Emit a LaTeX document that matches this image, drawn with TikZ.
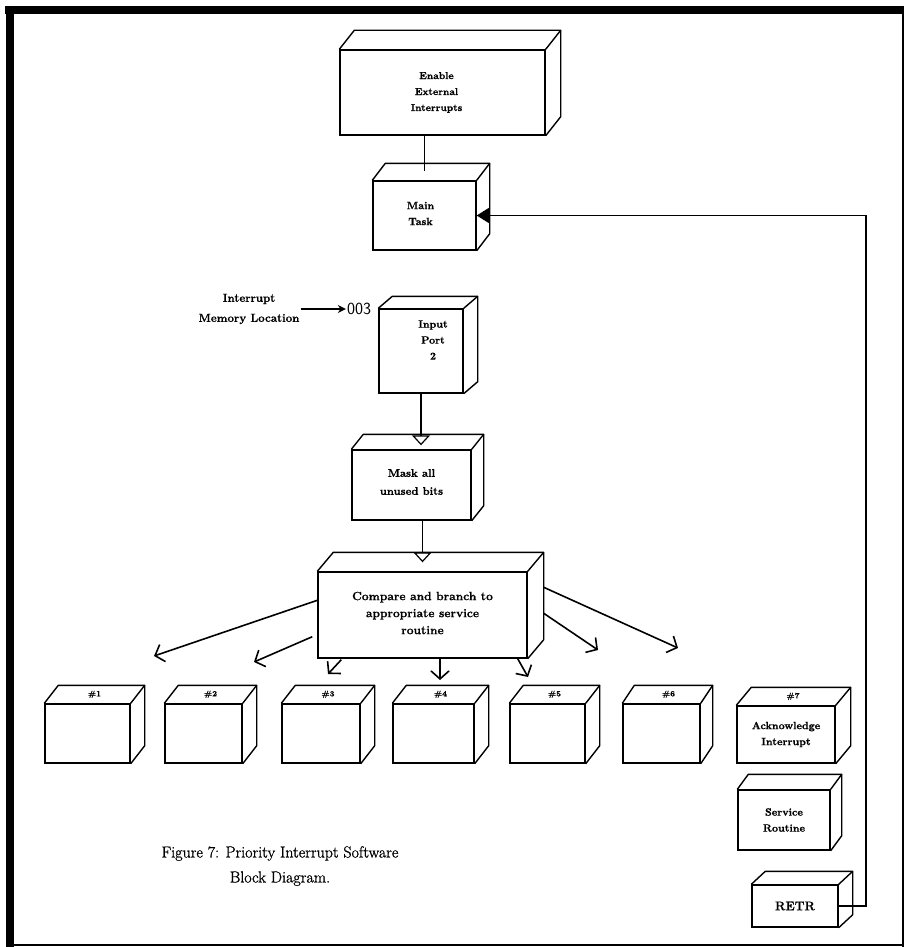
\documentclass[tikz,border=0pt]{standalone}
\usepackage{fontspec}
\usetikzlibrary{arrows.meta,calc}
% slightly heavier cuts of Latin Modern for the printed look of the labels
\newfontfamily\capfont[RawFeature={embolden=1.2}]{Latin Modern Roman}
\newfontfamily\boxfont[RawFeature={embolden=0.8}]{Latin Modern Roman}
\begin{document}
\begin{tikzpicture}[x=1pt,y=-1pt,
  facebox/.style={draw, line width=1.4pt, fill=white, inner sep=0pt},
  face/.style={inner sep=0pt, align=center, font=\boxfont\bfseries\fontsize{10.5}{16}\selectfont},
  bigface/.style={face, font=\boxfont\bfseries\fontsize{11}{18}\selectfont},
  wideface/.style={face, font=\boxfont\bfseries\fontsize{12}{17}\selectfont},
  toplbl/.style={inner sep=0pt, font=\boxfont\bfseries\fontsize{8}{8}\selectfont},
  conn/.style={line width=1.2pt},
  barb/.style={line width=1.6pt, -{Straight Barb[length=8pt,width=18pt,line width=1.6pt]}},
  notch/.style={conn, -{Triangle[open,length=10pt,width=18pt,line width=1.2pt]}},
  side/.style={line width=1.4pt, line join=round}]

\useasboundingbox (0,0) rectangle (909,947);

% outer frame
\draw[line width=8pt] (5,10) -- (904,10);
\draw[line width=8pt] (10,6) -- (10,947);
\draw[line width=1.5pt] (903,14) -- (903,947);
\draw[line width=1.5pt] (10,945) -- (903,945);

% a block: front face as node, top and right faces drawn from its anchors,
% text as its own node (style #8 may shift it)
% #1 name, #2 left, #3 top, #4 right, #5 bottom, #6 depth x, #7 depth y, #8 text style, #9 text
\newcommand\blockat[9]{%
  \node[facebox, minimum width={#4-#2}, minimum height={#5-#3}] (#1) at ({(#2+#4)/2},{(#3+#5)/2}) {};
  \draw[side] (#1.north west) -- ++(#6,-#7) -- ($(#1.north east)+(#6,-#7)$)
    -- ($(#1.south east)+(#6,-#7)$) -- (#1.south east);
  \draw[side] (#1.north east) -- ++(#6,-#7);
  \node[#8] (#1-t) at (#1.center) {#9};
}

\blockat{enable}{340}{50}{545}{135}{15}{19}{face, font=\boxfont\bfseries\fontsize{10}{16}\selectfont, xshift=-6pt}{Enable\\External\\Interrupts}
\blockat{main}{373}{181}{476}{250}{13}{17}{face, xshift=-4pt, yshift=2pt}{Main\\Task}
\blockat{input}{379}{309}{463}{393}{14}{12}{face, xshift=12pt, yshift=11pt}{Input\\Port\\2}
\blockat{mask}{352}{450}{471}{520}{12}{15}{bigface, yshift=3pt}{Mask all\\unused bits}
\blockat{compare}{318}{572}{527}{658}{16}{19}{wideface, yshift=2pt}{Compare and branch to\\appropriate service\\routine}

\blockat{r1}{45}{704}{130}{763}{14}{18}{face}{}
\blockat{r2}{165}{704}{242}{763}{14}{18}{face}{}
\blockat{r3}{282}{704}{360}{763}{14}{18}{face}{}
\blockat{r4}{393}{704}{474}{763}{14}{18}{face}{}
\blockat{r5}{510}{704}{585}{763}{14}{18}{face}{}
\blockat{r6}{623}{704}{700}{763}{12}{18}{face}{}
\blockat{r7}{737}{706}{835}{763}{15}{18}{face}{Acknowledge\\Interrupt}
\blockat{serv}{738}{790}{830}{850}{11}{15}{face}{Service\\Routine}
\blockat{retr}{752}{885}{838}{927}{14}{13}{face, font=\boxfont\bfseries\fontsize{12.5}{14}\selectfont}{RETR}

% labels on the top faces of the routine blocks
\foreach \n in {1,...,7}
  \node[toplbl] (t\n) at ($(r\n.north)+(7,-9)$) {\#\n};

% interrupt vector
\node[align=center, inner sep=1pt, font=\boxfont\bfseries\fontsize{11.5}{20}\selectfont] (iml) at (249,309) {Interrupt\\Memory Location};
\node[inner sep=1pt, font=\sffamily\fontsize{17}{18}\selectfont] (loc) at (359,309) {003};
\draw[line width=1.6pt, -{Stealth[length=8pt,width=8pt]}] (iml.east) -- (loc.west);

% flow between blocks
\draw[conn] (enable.south -| main.north) -- ($(main.north)+(0,-9)$);
\draw[notch] (input.south) -- ($(input.south |- mask.north)+(0,-4)$);
\draw[notch] (mask.south -| compare.north) -- ($(compare.north)+(0,-9)$);

% branches to the service routines
\coordinate (b1) at (154,656);
\coordinate (b2) at (254,662);
\coordinate (b3) at (328,674);
\coordinate (b4) at (440,680);
\coordinate (b5) at (528,677);
\coordinate (b6) at (598,650);
\coordinate (b7) at (678,648);
\draw[barb] ($(compare.north west)+(0,29)$) -- (b1);
\draw[barb] ($(compare.south west)+(-5,-22)$) -- (b2);
\draw[barb] ($(compare.south west)+(24,1)$) -- (b3);
\draw[barb] (compare.south -| b4) -- (b4);
\draw[barb] ($(compare.south east)+(-10,0)$) -- (b5);
\draw[barb] ($(compare.north east)+(16,42)$) -- (b6);
\draw[barb] ($(compare.north east)+(16,16)$) -- (b7);

% return path to the main task
\coordinate (rbus) at (866,0);
\draw[conn, -{Triangle[length=13pt,width=16pt]}] (retr.east) -- (retr.east -| rbus)
  -- (rbus |- main.east) -- (main.east);

% caption
\node[align=center, font=\capfont\fontsize{16}{25}\selectfont] (cap) at (280,866)
  {Figure 7: Priority Interrupt Software\\Block Diagram.};
\end{tikzpicture}
\end{document}
